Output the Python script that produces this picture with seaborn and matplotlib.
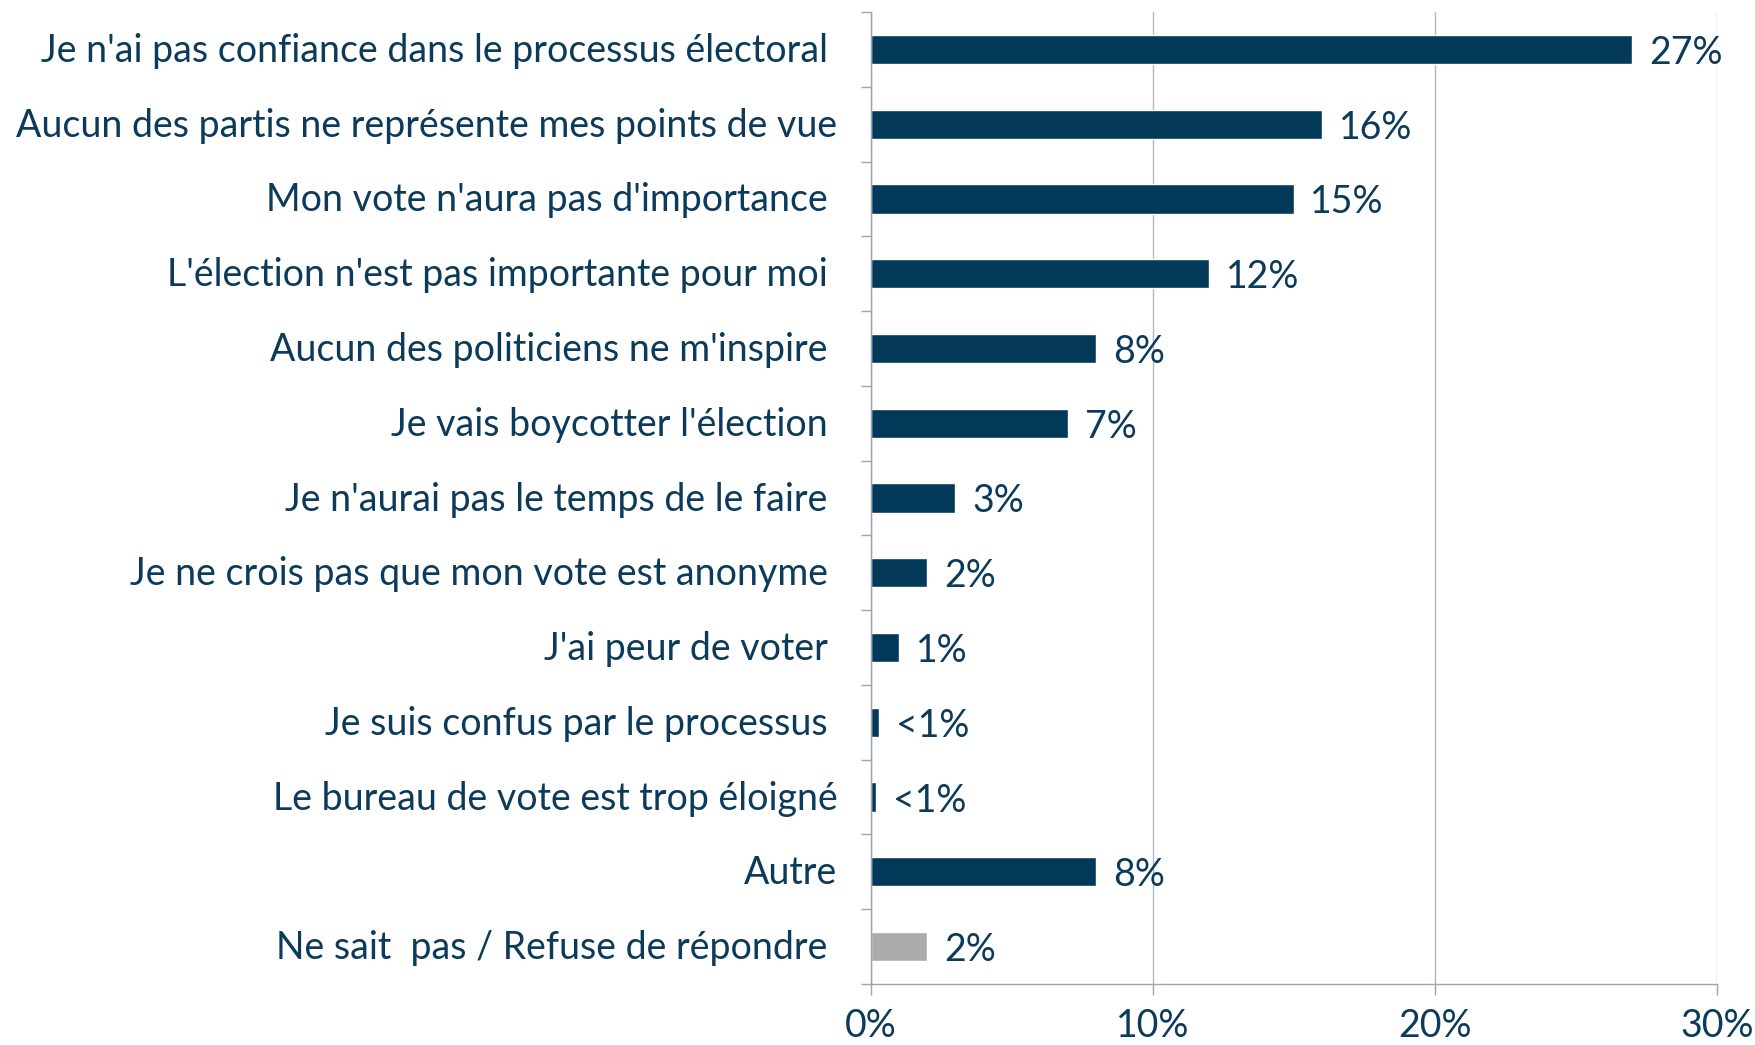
import matplotlib
matplotlib.use("Agg")
import matplotlib.pyplot as plt
import matplotlib.transforms as mtransforms
import seaborn as sns
import pandas as pd
from matplotlib.ticker import FixedLocator, PercentFormatter

categories = [
    "Je n'ai pas confiance dans le processus électoral ",
    "Aucun des partis ne représente mes points de vue",
    "Mon vote n'aura pas d'importance ",
    "L'élection n'est pas importante pour moi ",
    "Aucun des politiciens ne m'inspire ",
    "Je vais boycotter l'élection ",
    "Je n'aurai pas le temps de le faire ",
    "Je ne crois pas que mon vote est anonyme ",
    "J'ai peur de voter ",
    "Je suis confus par le processus ",
    "Le bureau de vote est trop éloigné",
    "Autre",
    "Ne sait  pas / Refuse de répondre ",
]
values = [27, 16, 15, 12, 8, 7, 3, 2, 1, 0.3, 0.2, 8, 2]
value_labels = ["27%", "16%", "15%", "12%", "8%", "7%", "3%", "2%", "1%", "<1%", "<1%", "8%", "2%"]
bar_colors = ["#033a5a"] * 12 + ["#ababab"]
x_ticks = [0, 10, 20, 30]

TEXT = "#0c3a5a"
GRID = "#b3b7bf"
FS = 27

sns.set_theme(style="white")
plt.rcParams["font.family"] = ["Lato", "DejaVu Sans"]

df = pd.DataFrame({"cat": categories, "val": values})

fig = plt.figure(figsize=(17.56, 10.45), dpi=100)
ax = fig.add_axes([870.7 / 1756, 1 - 984 / 1045, (1716.7 - 870.7) / 1756, (984 - 12) / 1045])

sns.barplot(data=df, x="val", y="cat", hue="cat", palette=bar_colors, legend=False,
            width=0.39, ax=ax, orient="h", saturation=1)

ax.set_xlim(0, 30)
ax.set_ylim(len(categories) - 0.5, -0.5)
ax.set_xlabel("")
ax.set_ylabel("")

ax.xaxis.set_major_locator(FixedLocator(x_ticks))
ax.xaxis.set_major_formatter(PercentFormatter(decimals=0))
ax.grid(axis="x", color=GRID, linewidth=1.0)
ax.grid(axis="y", visible=False)
ax.set_axisbelow(True)

for s in ["top", "right"]:
    ax.spines[s].set_visible(False)
for s in ["left", "bottom"]:
    ax.spines[s].set_color("#9ea3ad")
    ax.spines[s].set_linewidth(1.0)

ax.tick_params(axis="x", which="major", bottom=True, length=8, width=1.0, color="#9ea3ad",
               pad=9, labelsize=FS, labelcolor=TEXT)
ax.tick_params(axis="y", which="major", left=False, length=0, pad=24, labelsize=FS, labelcolor=TEXT)
ax.yaxis.set_minor_locator(FixedLocator([i - 0.5 for i in range(len(categories) + 1)]))
ax.tick_params(axis="y", which="minor", left=True, length=7.5, width=1.0, color="#9ea3ad")

# nudge y tick labels up slightly
offset = mtransforms.ScaledTranslation(0, 2 / 100, fig.dpi_scale_trans)
for lbl in ax.get_yticklabels():
    lbl.set_transform(lbl.get_transform() + offset)

for c in ax.containers:
    idxs = [int(round(b.get_y() + b.get_height() / 2)) for b in c]
    texts = ax.bar_label(c, labels=[value_labels[i] for i in idxs], padding=12, fontsize=FS, color=TEXT)
    for t in texts:
        t.set_va("center_baseline")

fig.savefig("out.png", dpi=100)
